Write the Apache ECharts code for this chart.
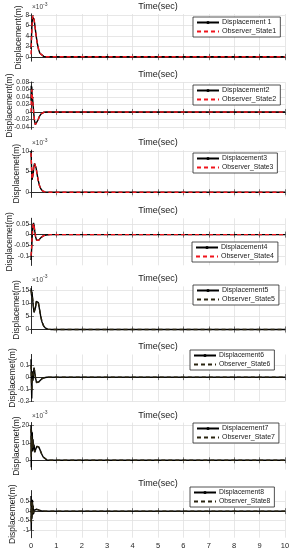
<!DOCTYPE html>
<html><head><meta charset="utf-8">
<script src="https://cdn.jsdelivr.net/npm/echarts@6/dist/echarts.min.js"></script>
<style>html,body{margin:0;padding:0;background:#fff}#c{width:294px;height:550px}</style>
</head><body><div id="c"></div><script>
// ---------- DATA ----------
const xTicks = [0,1,2,3,4,5,6,7,8,9,10];

// panel 1 (values shown x10^-3)
const time1 = [0,0.02,0.04,0.06,0.08,0.1,0.12,0.15,0.2,0.25,0.3,0.35,0.4,0.5,0.6,0.8,1,2,10];
const disp1 = [1.5,4.0,6.3,7.6,7.9,7.7,7.2,6.1,4.1,2.5,1.4,0.7,0.35,0.08,0.02,0,0,0,0];
const obs1  = [0.5,3.2,5.9,7.4,7.9,7.7,7.2,6.1,4.1,2.5,1.4,0.7,0.35,0.08,0.02,0,0,0,0];
const yTicks1 = [0,2,4,6,8];

// panel 2
const time2 = [0,0.01,0.02,0.03,0.04,0.05,0.07,0.09,0.11,0.14,0.17,0.2,0.24,0.28,0.33,0.4,0.5,0.6,0.8,10];
const disp2 = [0.03,0.07,0.045,0.068,0.05,0.045,0.03,0.012,-0.005,-0.024,-0.034,-0.035,-0.03,-0.021,-0.012,-0.005,-0.001,0,0,0];
const obs2  = [0.0,0.03,0.05,0.06,0.055,0.045,0.03,0.012,-0.005,-0.024,-0.034,-0.035,-0.03,-0.021,-0.012,-0.005,-0.001,0,0,0];
const yTicks2 = [-0.04,-0.02,0,0.02,0.04,0.06,0.08];

// panel 3 (x10^-3)
const time3 = [0,0.02,0.04,0.06,0.08,0.11,0.14,0.17,0.2,0.24,0.28,0.33,0.38,0.45,0.55,0.7,1,10];
const disp3 = [10,6.5,3.0,2.6,4.2,6.2,7.0,6.8,5.9,4.4,3.0,1.7,0.9,0.35,0.1,0,0,0];
const obs3  = [9.5,6.3,3.2,2.8,4.2,6.2,7.0,6.8,5.9,4.4,3.0,1.7,0.9,0.35,0.1,0,0,0];
const yTicks3 = [0,5,10];

// panel 4
const time4 = [0,0.02,0.04,0.06,0.08,0.1,0.12,0.15,0.18,0.22,0.26,0.3,0.35,0.4,0.5,0.6,0.75,10];
const disp4 = [-0.12,-0.08,-0.03,0.015,0.045,0.055,0.045,0.015,-0.01,-0.026,-0.03,-0.027,-0.02,-0.013,-0.005,-0.002,0,0];
const obs4  = [-0.1,-0.07,-0.025,0.015,0.043,0.053,0.045,0.015,-0.01,-0.026,-0.03,-0.027,-0.02,-0.013,-0.005,-0.002,0,0];
const yTicks4 = [-0.1,-0.05,0,0.05];

// panel 5 (x10^-3)
const time5 = [0,0.02,0.04,0.06,0.09,0.12,0.15,0.18,0.21,0.25,0.29,0.33,0.38,0.43,0.49,0.56,0.65,0.8,10];
const disp5 = [15.8,13,14.5,12,9,6.5,6.3,8.5,10.8,11.4,10.3,8.0,5.2,3.0,1.5,0.6,0.15,0,0];
const obs5  = [15,14,14,12,9.2,6.8,6.5,8.5,10.8,11.4,10.3,8.0,5.2,3.0,1.5,0.6,0.15,0,0];
const yTicks5 = [0,5,10,15];

// panel 6
const time6 = [0,0.015,0.03,0.045,0.06,0.08,0.1,0.12,0.15,0.18,0.22,0.26,0.31,0.37,0.44,0.52,0.62,0.75,10];
const disp6 = [0.15,-0.05,-0.18,-0.02,0.05,-0.03,0.04,0.08,0.04,-0.01,-0.045,-0.05,-0.04,-0.025,-0.012,-0.005,-0.001,0,0];
const obs6  = [0.1,0.0,-0.12,-0.04,0.03,0.0,0.04,0.075,0.04,-0.01,-0.045,-0.05,-0.04,-0.025,-0.012,-0.005,-0.001,0,0];
const yTicks6 = [-0.2,-0.1,0,0.1];

// panel 7 (x10^-3)
const time7 = [0,0.01,0.02,0.035,0.05,0.065,0.08,0.1,0.12,0.15,0.19,0.23,0.27,0.31,0.36,0.42,0.48,0.55,0.63,0.75,10];
const disp7 = [20,-4,17,6,16,5,12,6,9,4.5,6.5,8.0,8.3,7.5,5.8,3.6,1.9,0.8,0.2,0,0];
const obs7  = [18,2,14,8,13,7,10,7,8,5,6.5,8.0,8.3,7.5,5.8,3.6,1.9,0.8,0.2,0,0];
const yTicks7 = [0,10,20];

// panel 8
const time8 = [0,0.01,0.025,0.04,0.055,0.07,0.085,0.1,0.12,0.15,0.19,0.23,0.27,0.32,0.38,0.45,0.55,10];
const disp8 = [0.8,-1.0,0.3,-0.4,0.6,-0.2,0.3,-0.15,0.05,-0.05,0.06,0.1,0.09,0.05,0.02,0.005,0,0];
const obs8  = [0.5,-0.6,0.2,-0.3,0.5,-0.1,0.25,-0.1,0.05,-0.05,0.06,0.1,0.09,0.05,0.02,0.005,0,0];
const yTicks8 = [-1,-0.5,0,0.5];

const dispNames = ['Displacement 1','Displacement2','Displacement3','Displacement4','Displacement5','Displacement6','Displacement7','Displacement8'];
const obsNames  = ['Observer_State1','Observer_State2','Observer_State3','Observer_State4','Observer_State5','Observer_State6','Observer_State7','Observer_State8'];
const yLabels = ['Displacement(m)','Displacement(m)','Displacemet(m)','Displacemet(m)','Displacemet(m)','Displacemet(m)','Displacemet(m)','Displacemet(m)'];
const yRanges = [[-0.8,8.2],[-0.046,0.08],[-1.2,10.2],[-0.145,0.077],[-1.5,16.5],[-0.205,0.19],[-5.3,21.5],[-1.4,1.08]];
const scaled = [true,false,true,false,true,false,true,false];
const xTitle = 'Time(sec)';

// ---------- LAYOUT ----------
const times = [time1,time2,time3,time4,time5,time6,time7,time8];
const disps = [disp1,disp2,disp3,disp4,disp5,disp6,disp7,disp8];
const obss  = [obs1,obs2,obs3,obs4,obs5,obs6,obs7,obs8];
const yTicksAll = [yTicks1,yTicks2,yTicks3,yTicks4,yTicks5,yTicks6,yTicks7,yTicks8];
const GL = 31, GR = 9, GT0 = 14, GSTEP = 68.1, GH = 47;
const nameGaps = [7.5,16.5,10,16.5,10,14,10,14];
const legendPos = [[193,17,7.2],[193,85,7.2],[193,153,6.8],[192,242,7],[193,285,7],[190,350,6.8],[193,423,7],[190,487,6.8]];
const FONT = 'Liberation Sans, Arial, sans-serif';
const AX = '#262626';

const grid=[], xAxis=[], yAxis=[], series=[], legend=[], graphic=[];
for (let i=0;i<8;i++){
  const top = GT0 + i*GSTEP;
  grid.push({left:GL, right:GR, top:top, height:GH, outerBoundsMode:'none', containLabel:false});
  const last = i===7;
  xAxis.push({type:'value', gridIndex:i, min:0, max:10, interval:1, position:'bottom',
    axisLine:{lineStyle:{color:AX,width:0.8}}, axisTick:{inside:true,length:3,lineStyle:{color:AX,width:0.6}},
    axisLabel:{show:last, fontSize:7.5, color:AX, fontFamily:FONT, margin:4},
    splitLine:{show:true, lineStyle:{color:'#e1e1e1',width:0.8}}});
  xAxis.push({type:'value', gridIndex:i, min:0, max:10, interval:1, position:'top',
    axisLine:{lineStyle:{color:AX,width:0.8}}, axisTick:{inside:true,length:3,lineStyle:{color:AX,width:0.6}},
    axisLabel:{show:false}, splitLine:{show:false},
    name:xTitle, nameLocation:'middle', nameGap:3, nameMoveOverlap:false,
    nameTextStyle:{fontSize:9, color:'#1a1a1a', fontFamily:FONT, verticalAlign:'bottom'}});
  const yt = yTicksAll[i];
  yAxis.push({type:'value', gridIndex:i, min:yRanges[i][0], max:yRanges[i][1], position:'left',
    axisLine:{show:true,lineStyle:{color:AX,width:0.8}},
    axisTick:{show:true,inside:true,length:3,customValues:yt,lineStyle:{color:AX,width:0.6}},
    axisLabel:{fontSize:6.5, color:AX, fontFamily:FONT, margin:2, customValues:yt},
    splitLine:{show:true, customValues:yt, lineStyle:{color:'#e1e1e1',width:0.8}},
    name:yLabels[i], nameLocation:'middle', nameGap:nameGaps[i], nameMoveOverlap:false,
    nameTextStyle:{fontSize:8.5, color:'#1a1a1a', fontFamily:FONT}});
  yAxis.push({type:'value', gridIndex:i, min:yRanges[i][0], max:yRanges[i][1], position:'right',
    axisLine:{show:true,lineStyle:{color:AX,width:0.8}},
    axisTick:{show:true,inside:true,length:3,customValues:yt,lineStyle:{color:AX,width:0.6}},
    axisLabel:{show:false}, splitLine:{show:false}});
  const dark = i>=4;
  const oc = dark?'#2a2410':'#f0141c';
  series.push({name:dispNames[i], type:'line', xAxisIndex:2*i, yAxisIndex:2*i,
    data: times[i].map((t,k)=>[t,disps[i][k]]), symbol:'circle', symbolSize:3, showSymbol:false,
    itemStyle:{color:'#000'}, lineStyle:{color:'#000',width:1.4}, animation:false, z:2});
  series.push({name:obsNames[i], type:'line', xAxisIndex:2*i, yAxisIndex:2*i,
    data: times[i].map((t,k)=>[t,obss[i][k]]), symbol:'circle', symbolSize:0, showSymbol:false,
    itemStyle:{color:'rgba(0,0,0,0)', borderWidth:0},
    lineStyle:{color:oc, width:1.4, type:[4,3]}, animation:false, z:3});
  const lp = legendPos[i];
  legend.push({data:[dispNames[i], obsNames[i]], orient:'vertical', left:lp[0], top:lp[1],
    itemGap:2, itemWidth:22, itemHeight:4, padding:[2,4,2,3],
    backgroundColor:'#fff', borderColor:AX, borderWidth:0.8, borderRadius:0,
    textStyle:{fontSize:lp[2], color:'#1a1a1a', fontFamily:FONT, padding:[0,0,0,-2]}});
  if (scaled[i]) {
    graphic.push({type:'text', left:GL+1, top:top-10, style:{text:'×10', fontSize:6.5, fill:'#404040', font:'6.5px '+FONT}});
    graphic.push({type:'text', left:GL+12, top:top-12, style:{text:'-3', fontSize:5, fill:'#404040', font:'5px '+FONT}});
  }
}
const chart = echarts.init(document.getElementById('c'), null, {renderer:'canvas'});
chart.setOption({animation:false, backgroundColor:'#fff', grid, xAxis, yAxis, series, legend, graphic});
</script></body></html>
